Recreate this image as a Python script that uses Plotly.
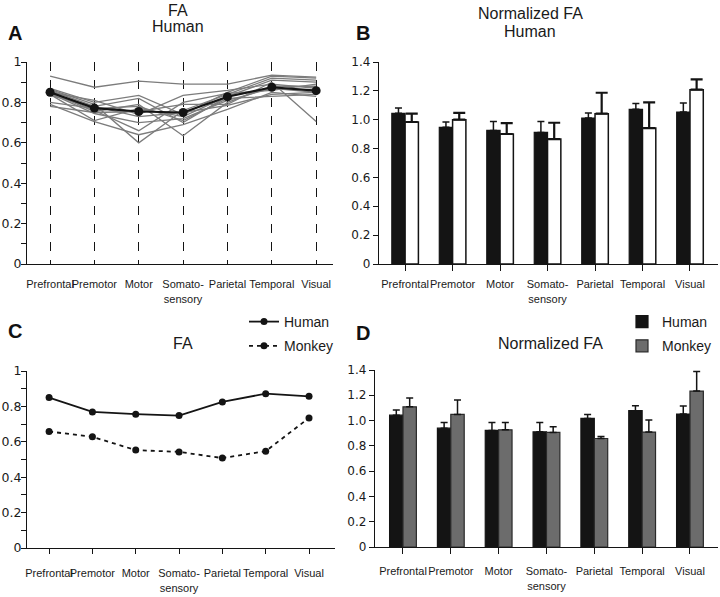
import plotly.graph_objects as go
from plotly.subplots import make_subplots

regions = ["Prefrontal", "Premotor", "Motor", "Somato-<br>sensory", "Parietal", "Temporal", "Visual"]

# A: FA of individual human subjects and their mean
subjects_fa = [
    [0.93, 0.875, 0.905, 0.89, 0.89, 0.935, 0.925],
    [0.87, 0.80, 0.835, 0.74, 0.85, 0.93, 0.92],
    [0.865, 0.79, 0.60, 0.76, 0.84, 0.92, 0.91],
    [0.86, 0.78, 0.82, 0.70, 0.83, 0.91, 0.90],
    [0.855, 0.76, 0.66, 0.80, 0.845, 0.86, 0.89],
    [0.85, 0.755, 0.79, 0.635, 0.80, 0.88, 0.88],
    [0.85, 0.81, 0.74, 0.835, 0.86, 0.89, 0.87],
    [0.845, 0.745, 0.70, 0.72, 0.81, 0.87, 0.86],
    [0.84, 0.71, 0.77, 0.73, 0.83, 0.87, 0.85],
    [0.835, 0.78, 0.73, 0.75, 0.785, 0.84, 0.85],
    [0.80, 0.77, 0.78, 0.71, 0.82, 0.83, 0.84],
    [0.79, 0.705, 0.64, 0.69, 0.765, 0.85, 0.83],
    [0.78, 0.75, 0.755, 0.79, 0.79, 0.90, 0.705],
]
human_fa_mean = [0.85, 0.772, 0.755, 0.75, 0.828, 0.875, 0.858]

# B: normalized FA, human (two bar series)
human_norm_b = [1.044, 0.947, 0.926, 0.912, 1.012, 1.072, 1.053]
human_norm_b_err = [0.037, 0.037, 0.062, 0.076, 0.034, 0.041, 0.062]
open_norm_b = [0.984, 1.0, 0.901, 0.866, 1.042, 0.942, 1.208]
open_norm_b_err = [0.058, 0.048, 0.076, 0.113, 0.145, 0.178, 0.071]

# C: FA, human vs monkey
human_fa = [0.850, 0.769, 0.756, 0.748, 0.825, 0.872, 0.857]
monkey_fa = [0.658, 0.628, 0.553, 0.543, 0.508, 0.547, 0.735]

# D: normalized FA, human vs monkey
human_norm = [1.043, 0.940, 0.922, 0.911, 1.017, 1.078, 1.051]
human_norm_err = [0.040, 0.045, 0.063, 0.074, 0.032, 0.039, 0.064]
monkey_norm = [1.109, 1.049, 0.927, 0.906, 0.858, 0.909, 1.233]
monkey_norm_err = [0.069, 0.113, 0.058, 0.045, 0.016, 0.095, 0.156]

norm_ticks = [0, 0.2, 0.4, 0.6, 0.8, 1.0, 1.2, 1.4]
norm_ticktext = ["0", "0.2", "0.4", "0.6", "0.8", "1.0", "1.2", "1.4"]

BLACK = "#141414"
GREY_LINE = "#7c7c7c"
MONKEY_GREY = "#6c6c6c"
W, H = 720, 597

fig = make_subplots(rows=2, cols=2)

# ---- A ----
for s in subjects_fa:
    fig.add_trace(go.Scatter(x=regions, y=s, mode="lines", line=dict(color=GREY_LINE, width=1.3),
                             showlegend=False, hoverinfo="skip"), row=1, col=1)
fig.add_trace(go.Scatter(x=regions, y=human_fa_mean, mode="lines+markers",
                         line=dict(color=BLACK, width=2.2), marker=dict(size=9, color=BLACK),
                         showlegend=False), row=1, col=1)

# ---- B ----
fig.add_trace(go.Bar(x=regions, y=human_norm_b, marker=dict(color=BLACK, line=dict(color=BLACK, width=1.2)),
                     error_y=dict(type="data", array=human_norm_b_err, arrayminus=[0] * 7, symmetric=False,
                                  color=BLACK, thickness=1.5, width=3.5),
                     showlegend=False), row=1, col=2)
fig.add_trace(go.Bar(x=regions, y=open_norm_b, marker=dict(color="white", line=dict(color=BLACK, width=1.5)),
                     error_y=dict(type="data", array=open_norm_b_err, arrayminus=[0] * 7, symmetric=False,
                                  color=BLACK, thickness=2.2, width=6),
                     showlegend=False), row=1, col=2)

# ---- C ----
fig.add_trace(go.Scatter(x=regions, y=human_fa, mode="lines+markers", name="Human",
                         line=dict(color=BLACK, width=1.8), marker=dict(size=7, color=BLACK),
                         legend="legend", legendgroup="h"), row=2, col=1)
fig.add_trace(go.Scatter(x=regions, y=monkey_fa, mode="lines+markers", name="Monkey",
                         line=dict(color=BLACK, width=1.8, dash="4px,4px"), marker=dict(size=7, color=BLACK),
                         legend="legend", legendgroup="m"), row=2, col=1)

# ---- D ----
fig.add_trace(go.Bar(x=regions, y=human_norm, name="Human",
                     marker=dict(color=BLACK, line=dict(color=BLACK, width=1.2)),
                     error_y=dict(type="data", array=human_norm_err, arrayminus=[0] * 7, symmetric=False,
                                  color=BLACK, thickness=1.5, width=3.5),
                     legend="legend2", legendgroup="h2"), row=2, col=2)
fig.add_trace(go.Bar(x=regions, y=monkey_norm, name="Monkey",
                     marker=dict(color=MONKEY_GREY, line=dict(color="#2a2a2a", width=1.2)),
                     error_y=dict(type="data", array=monkey_norm_err, arrayminus=[0] * 7, symmetric=False,
                                  color=BLACK, thickness=1.5, width=3.5),
                     legend="legend2", legendgroup="m2"), row=2, col=2)


def dom_x(a, b):
    return [a / W, b / W]


def dom_y(top, bottom):
    return [1 - bottom / H, 1 - top / H]


narrow = dict(family="Liberation Sans, Arial", size=11, color="#1a1a1a")
arial = dict(family="Liberation Sans, Arial", size=11, color="#1a1a1a")
verdana = dict(family="DejaVu Sans, Verdana", size=12.5, color="#1a1a1a")
verdana_s = dict(family="DejaVu Sans, Verdana", size=12, color="#1a1a1a")

axis_common = dict(showline=True, linecolor=BLACK, linewidth=1.3, zeroline=False, mirror=False,
                   fixedrange=True, automargin=False)

fig.update_layout(
    # A
    xaxis=dict(axis_common, domain=dom_x(27, 333), range=[-0.52, 6.38], showgrid=True,
               gridcolor=BLACK, griddash="dash", gridwidth=1, ticks="", tickfont=narrow,
               tickangle=0, ticklabelstandoff=10),
    yaxis=dict(axis_common, domain=dom_y(62, 264), range=[0, 1], dtick=0.2, showgrid=False,
               ticks="outside", ticklen=5, tickcolor=BLACK, tickfont=verdana, ticklabelstandoff=-3,
               minor=dict(dtick=0.1, ticks="outside", ticklen=5, tickcolor=BLACK, showgrid=False)),
    # B
    xaxis2=dict(axis_common, domain=dom_x(379, 718), range=[-0.55, 6.59], showgrid=False,
                ticks="outside", ticklen=6, tickcolor=BLACK, tickfont=arial, tickangle=0,
                ticklabelstandoff=4),
    yaxis2=dict(axis_common, domain=dom_y(62, 264), range=[0, 1.4], tickvals=norm_ticks,
                ticktext=norm_ticktext, showgrid=False, ticks="outside", ticklen=5, tickcolor=BLACK,
                tickfont=verdana_s),
    # C
    xaxis3=dict(axis_common, domain=dom_x(27, 335), range=[-0.51, 6.6], showgrid=False,
                ticks="outside", ticklen=5, tickcolor=BLACK, tickfont=narrow, tickangle=0,
                ticklabelstandoff=10),
    yaxis3=dict(axis_common, domain=dom_y(371, 548), range=[0, 1], dtick=0.2, showgrid=False,
                ticks="outside", ticklen=5, tickcolor=BLACK, tickfont=verdana, ticklabelstandoff=-3,
                minor=dict(dtick=0.1, ticks="outside", ticklen=5, tickcolor=BLACK, showgrid=False)),
    # D
    xaxis4=dict(axis_common, domain=dom_x(375, 718), range=[-0.585, 6.586], showgrid=False,
                ticks="outside", ticklen=6, tickcolor=BLACK, tickfont=arial, tickangle=0,
                ticklabelstandoff=8),
    yaxis4=dict(axis_common, domain=dom_y(370, 547), range=[0, 1.4], tickvals=norm_ticks,
                ticktext=norm_ticktext, showgrid=False, ticks="outside", ticklen=5, tickcolor=BLACK,
                tickfont=verdana_s),
    barmode="group",
    bargap=0.44,
    bargroupgap=0,
    legend=dict(x=244 / W, y=1 - 306 / H, xanchor="left", yanchor="top", bgcolor="rgba(0,0,0,0)",
                font=dict(family="Liberation Sans, Arial", size=14, color="#1a1a1a"),
                itemwidth=30, tracegroupgap=3),
    legend2=dict(x=622 / W, y=1 - 306 / H, xanchor="left", yanchor="top", bgcolor="rgba(0,0,0,0)",
                 font=dict(family="Liberation Sans, Arial", size=14, color="#1a1a1a"),
                 itemwidth=30, tracegroupgap=3),
    width=W,
    height=H,
    margin=dict(l=0, r=0, t=0, b=0, autoexpand=False),
    paper_bgcolor="white",
    plot_bgcolor="white",
    font=dict(family="Liberation Sans, Arial", color="#1a1a1a"),
)

title_font = dict(family="Liberation Sans, Arial", size=16, color="#1a1a1a")
letter_font = dict(family="Liberation Sans, Arial", size=20, color="#111111")

annotations = [
    dict(text="FA", x=178 / W, y=1 - 10 / H, font=title_font),
    dict(text="Human", x=178 / W, y=1 - 26 / H, font=title_font),
    dict(text="Normalized FA", x=530 / W, y=1 - 13 / H, font=title_font),
    dict(text="Human", x=530 / W, y=1 - 31 / H, font=title_font),
    dict(text="FA", x=183 / W, y=1 - 343 / H, font=title_font),
    dict(text="Normalized FA", x=550 / W, y=1 - 343 / H, font=title_font),
    dict(text="<b>A</b>", x=15 / W, y=1 - 33 / H, font=letter_font),
    dict(text="<b>B</b>", x=363 / W, y=1 - 33 / H, font=letter_font),
    dict(text="<b>C</b>", x=15 / W, y=1 - 331 / H, font=letter_font),
    dict(text="<b>D</b>", x=363 / W, y=1 - 333 / H, font=letter_font),
]
for a in annotations:
    fig.add_annotation(xref="paper", yref="paper", showarrow=False, xanchor="center",
                       yanchor="middle", **a)

# drop the default page margin so the figure sits at the window's top-left corner
fig.write_html("out.html", config={"displayModeBar": False},
               post_script="document.body.style.margin = '0';")
